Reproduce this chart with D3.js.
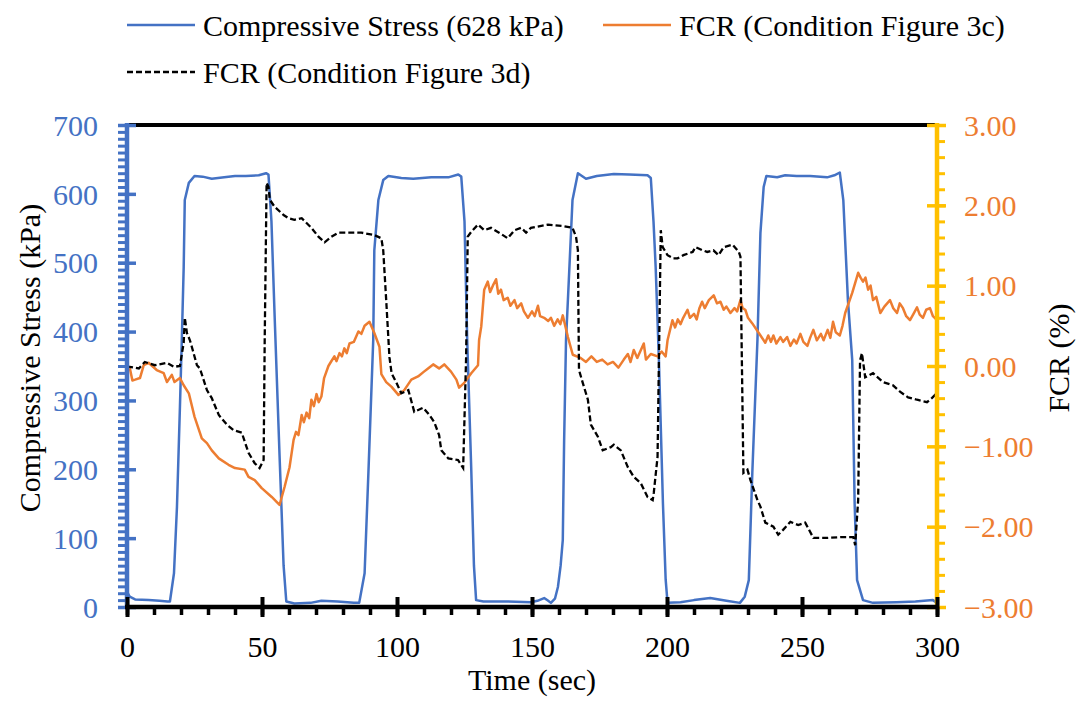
<!DOCTYPE html>
<html><head><meta charset="utf-8">
<script src="https://cdn.jsdelivr.net/npm/d3@7"></script>
<style>
body{margin:0;background:#fff;}
</style></head>
<body><svg id="c" width="1078" height="709"></svg>
<script>
// ---- data ----
const xTicks = [0,50,100,150,200,250,300];
const yLeftTicks = [0,100,200,300,400,500,600,700];
const yRightTicks = [-3,-2,-1,0,1,2,3];
const seriesNames = ["Compressive Stress (628 kPa)","FCR (Condition Figure 3c)","FCR (Condition Figure 3d)"];

const stress = [[0,22],[1,15],[3,11],[8,10],[12,9],[15,8],[15.9,8],[17.4,49],[18.5,145],[19.6,290],[20.3,388],[21,494],[21.4,591],[22.9,616],[25,626],[28,625],[31.4,622],[36,624],[40,626],[44,626],[48.8,627],[51.5,630],[52.4,628],[53.5,560],[54.7,420],[56.5,220],[58,60],[59,8],[62,5],[68,6],[72,9],[78,8],[84,6],[86,6],[88,49],[89.4,194],[91.2,388],[91.6,518],[93.1,591],[94.9,620],[96.8,626],[101.6,623],[106,622],[112.7,624],[119,624],[122.7,628],[123.8,625],[125,560],[126,388],[127.5,200],[128.5,60],[129.3,10],[132,8],[140,8],[149.6,7],[152,9],[154.5,13],[156,9],[157,6],[158.5,12],[159.6,29],[160.6,60],[161.4,97],[161.9,242],[162.6,388],[163.3,446],[165,591],[167,630],[170,622],[174,626],[180.3,629],[186,628],[192.8,627],[194,623],[195,560],[195.8,494],[197,359],[198.5,150],[199.5,40],[200.2,6],[205,7],[210,10],[216,13],[222,9],[227,6],[228.8,15],[230.3,39],[231.6,195],[233.5,388],[234.6,543],[235.8,610],[236.8,626],[240.8,624],[243.8,627],[248,626],[253,626],[259.3,624],[262,627],[264,631],[265.3,591],[267,446],[268.6,359],[269.5,150],[270.4,39],[272.6,10],[276.3,6],[285,7],[292,8],[298.5,10],[300,6]];

const fcr3c = [[0,0.0],[1,-0.02],[2,-0.18],[3,-0.17],[4.8,-0.15],[6.2,0.01],[8,0.04],[11,-0.05],[13.6,-0.09],[14.8,-0.2],[16.6,-0.11],[17.6,-0.2],[19.6,-0.15],[21,-0.24],[22.9,-0.34],[25,-0.63],[27.7,-0.9],[29.6,-0.96],[31.4,-1.05],[34,-1.15],[37.6,-1.23],[40,-1.27],[43.6,-1.29],[45,-1.38],[47.3,-1.42],[49.9,-1.52],[53.6,-1.63],[56.5,-1.73],[58.4,-1.5],[60.2,-1.26],[61.7,-0.92],[62.6,-0.82],[63.5,-0.86],[64.7,-0.61],[65.5,-0.7],[66.5,-0.58],[67.5,-0.65],[68.3,-0.42],[69.2,-0.5],[70.2,-0.35],[71,-0.45],[72,-0.38],[73,-0.15],[74.6,0.0],[75.5,0.05],[76.8,0.12],[77.6,0.06],[78.7,0.16],[79.6,0.12],[80.5,0.22],[81.4,0.16],[82.4,0.28],[84,0.3],[85.7,0.43],[86.8,0.4],[88,0.5],[89.8,0.55],[91.6,0.41],[93.5,0.24],[94.2,-0.1],[96,-0.2],[98,-0.26],[100.5,-0.36],[102.7,-0.3],[105.3,-0.17],[107.8,-0.13],[110,-0.07],[111.5,-0.03],[113.4,0.02],[115.6,-0.03],[117.5,0.02],[120,-0.07],[122,-0.17],[123,-0.27],[124.9,-0.21],[127.5,-0.09],[130,0.01],[130.4,0.32],[131.2,0.49],[132.3,0.95],[133.6,1.05],[134.5,0.92],[135.5,1.0],[136.7,1.08],[137.5,0.9],[138.5,0.95],[139.5,0.82],[141,0.85],[142,0.75],[143.5,0.82],[144.5,0.72],[146,0.78],[147,0.68],[148.5,0.6],[150,0.68],[151,0.62],[152.2,0.75],[153,0.62],[154.5,0.6],[156,0.56],[157,0.6],[158.2,0.5],[159.5,0.58],[160.5,0.52],[161.4,0.63],[163.3,0.36],[165.1,0.14],[168,0.1],[170,0.05],[172,0.12],[174,0.05],[176,0.08],[178,0.02],[180,0.05],[182,-0.02],[184,0.08],[185.5,0.15],[186.5,0.05],[187.7,0.2],[189,0.1],[191.4,0.28],[192.2,0.08],[194,0.15],[196.5,0.12],[198,0.18],[199.5,0.12],[200.2,0.32],[202,0.57],[203,0.48],[204,0.58],[205,0.52],[206,0.6],[207.6,0.7],[208.5,0.6],[210,0.65],[211,0.58],[212,0.72],[213,0.8],[214,0.72],[215.5,0.82],[217.3,0.88],[218.5,0.78],[219.8,0.8],[221,0.7],[222,0.74],[223.5,0.66],[225,0.72],[226,0.68],[227.2,0.82],[228,0.72],[229,0.7],[230,0.6],[231.6,0.53],[234,0.41],[236.4,0.29],[237.5,0.38],[238.5,0.3],[239.4,0.38],[240.5,0.28],[242,0.36],[243,0.3],[244.5,0.36],[245.7,0.25],[247,0.33],[248,0.28],[249.4,0.4],[250.5,0.3],[252,0.25],[253,0.35],[254.2,0.45],[255.5,0.32],[257,0.4],[258,0.32],[259.5,0.45],[260.5,0.35],[261.5,0.55],[262.5,0.42],[264,0.38],[265,0.5],[266,0.66],[268.6,0.91],[270.8,1.16],[271.7,1.1],[272.6,1.05],[273.5,1.1],[274.5,0.95],[275.4,1.0],[276.3,0.82],[277.5,0.86],[279,0.66],[280.5,0.74],[282.6,0.82],[283.8,0.72],[285.2,0.66],[286.2,0.78],[287.4,0.72],[288.6,0.62],[290,0.57],[291.3,0.65],[292.6,0.73],[293.6,0.64],[294.8,0.6],[296,0.7],[297.4,0.72],[298.5,0.62],[300,0.57]];

const fcr3d = [[0,-0.01],[1,-0.01],[4.4,-0.03],[6.6,0.05],[10.3,0.01],[14.8,0.04],[17.4,-0.01],[19.6,0.0],[21,0.29],[21.4,0.6],[22.2,0.41],[23.3,0.32],[24,0.24],[25.9,0.01],[27,-0.03],[29.6,-0.3],[31.4,-0.4],[34,-0.61],[37,-0.73],[39.5,-0.8],[42.5,-0.83],[45,-1.08],[47.3,-1.21],[49.1,-1.27],[50.6,-1.17],[51,0.32],[51.7,2.28],[52.4,2.23],[52.9,2.07],[54.7,1.98],[58,1.88],[59.8,1.84],[62,1.82],[64.7,1.84],[66.5,1.78],[68.3,1.72],[70.9,1.61],[73.2,1.54],[75.7,1.61],[78.3,1.66],[86.8,1.66],[91.6,1.63],[94.2,1.59],[94.9,1.44],[96,0.82],[97.2,0.11],[98,-0.09],[99.8,-0.21],[101.6,-0.34],[104.2,-0.3],[106.4,-0.57],[109.7,-0.52],[112,-0.61],[113.8,-0.7],[115.6,-0.86],[116.4,-1.05],[119,-1.15],[122.6,-1.17],[124.5,-1.27],[125.6,0.11],[126.2,1.61],[127.5,1.67],[130,1.76],[132.3,1.69],[134.8,1.72],[137.8,1.66],[141,1.59],[143.5,1.69],[146,1.72],[147.8,1.66],[149.6,1.72],[155.9,1.76],[161.9,1.74],[165,1.72],[166.3,1.61],[167,1.44],[167.4,-0.05],[168.8,-0.21],[170.7,-0.42],[171.8,-0.73],[174.4,-0.88],[176.2,-1.05],[179.2,-1.01],[180.3,-0.98],[182.9,-1.05],[185.5,-1.26],[187.7,-1.38],[190.3,-1.46],[192.8,-1.63],[194.7,-1.67],[195.1,-1.58],[196.5,-1.13],[197.7,1.69],[198.4,1.48],[200.2,1.38],[202.4,1.34],[203.9,1.34],[206.1,1.38],[209.5,1.42],[210.6,1.48],[213.2,1.44],[214.9,1.42],[217.2,1.44],[219.1,1.38],[221,1.48],[224.3,1.51],[226.6,1.42],[227.2,1.36],[228.3,-1.33],[229.8,-1.29],[230.9,-1.42],[233.5,-1.67],[234.6,-1.75],[236.4,-1.95],[239.4,-2.0],[241.2,-2.1],[243,-2.04],[245.7,-1.94],[248.6,-1.98],[251.2,-1.95],[254.2,-2.14],[259.3,-2.14],[264.2,-2.13],[269,-2.13],[269.7,-2.23],[270.8,-1.67],[271.5,0.07],[272.2,0.16],[273.4,-0.14],[276.3,-0.09],[280,-0.2],[283.7,-0.24],[286.3,-0.32],[289.3,-0.39],[292.6,-0.42],[296.3,-0.45],[298.1,-0.4],[299.3,-0.36],[300,-0.42]];

// ---- fonts ----
const FONT = '"Liberation Serif","Times New Roman","Tinos","DejaVu Serif","Noto Serif",serif';
const FS = 30;

// ---- drawing ----
const BLUE="#4472C4", ORANGE="#ED7D31", YELLOW="#FFC000";
const svg = d3.select("#c").style("font-family",FONT);
const X0=127, X1=937, Y0=607, Y1=125;
const x = d3.scaleLinear().domain([0,300]).range([X0,X1]);
const yL = d3.scaleLinear().domain([0,700]).range([Y0,Y1]);
const yR = d3.scaleLinear().domain([-3,3]).range([Y0,Y1]);

// top border
svg.append("line").attr("x1",X0).attr("x2",X1).attr("y1",Y1).attr("y2",Y1).attr("stroke","#000").attr("stroke-width",4);

// series
const line = (ys)=>d3.line().x(d=>x(d[0])).y(d=>ys(d[1]));
const plot = svg.append("g");
plot.append("path").datum(stress).attr("d",line(yL)).attr("fill","none").attr("stroke",BLUE).attr("stroke-width",2.5).attr("stroke-linejoin","round");
plot.append("path").datum(fcr3c).attr("d",line(yR)).attr("fill","none").attr("stroke",ORANGE).attr("stroke-width",2.5).attr("stroke-linejoin","round");
plot.append("path").datum(fcr3d).attr("d",line(yR)).attr("fill","none").attr("stroke","#000").attr("stroke-width",2.3).attr("stroke-dasharray","6,3");

const styleText = (g,col)=>g.selectAll("text").attr("fill",col).attr("font-size",FS).attr("font-family",FONT);

// left axis
const gL = svg.append("g").attr("transform",`translate(${X0},0)`);
gL.call(d3.axisLeft(yL).tickValues(d3.range(0,701,10)).tickSize(9).tickFormat(""))
  .call(g=>g.selectAll("line").attr("stroke",BLUE).attr("stroke-width",3))
  .call(g=>g.select(".domain").remove());
const gL2 = svg.append("g").attr("transform",`translate(${X0},0)`);
gL2.call(d3.axisLeft(yL).tickValues(yLeftTicks).tickSize(9).tickPadding(20))
  .call(g=>g.selectAll("line").attr("x1",9).attr("x2",-9).attr("stroke",BLUE).attr("stroke-width",3.5))
  .call(g=>g.select(".domain").remove())
  .call(g=>styleText(g,BLUE).attr("dy","0.34em"));
svg.append("line").attr("x1",X0).attr("x2",X0).attr("y1",Y1-2).attr("y2",Y0+2).attr("stroke",BLUE).attr("stroke-width",4.5);

// right axis
const gR = svg.append("g").attr("transform",`translate(${X1},0)`);
gR.call(d3.axisRight(yR).tickValues(d3.range(-15,16).map(v=>v/5)).tickSize(8).tickFormat(""))
  .call(g=>g.selectAll("line").attr("stroke",YELLOW).attr("stroke-width",3))
  .call(g=>g.select(".domain").remove());
const gR2 = svg.append("g").attr("transform",`translate(${X1},0)`);
gR2.call(d3.axisRight(yR).tickValues(yRightTicks).tickSize(9).tickPadding(18).tickFormat(d3.format(".2f")))
  .call(g=>g.selectAll("line").attr("x1",-10).attr("x2",9).attr("stroke",YELLOW).attr("stroke-width",3.5))
  .call(g=>g.select(".domain").remove())
  .call(g=>styleText(g,ORANGE).attr("dy","0.34em"));
svg.append("line").attr("x1",X1).attr("x2",X1).attr("y1",Y1-2).attr("y2",Y0+2).attr("stroke",YELLOW).attr("stroke-width",4.5);

// bottom axis
const gB = svg.append("g").attr("transform",`translate(0,${Y0})`);
gB.call(d3.axisBottom(x).tickValues(d3.range(0,301,10)).tickSize(8).tickFormat(""))
  .call(g=>g.selectAll("line").attr("stroke","#000").attr("stroke-width",3.5))
  .call(g=>g.select(".domain").remove());
const gB2 = svg.append("g").attr("transform",`translate(0,${Y0})`);
gB2.call(d3.axisBottom(x).tickValues(xTicks).tickSize(10).tickPadding(19))
  .call(g=>g.selectAll("line").attr("y1",-10).attr("y2",10).attr("stroke","#000").attr("stroke-width",4))
  .call(g=>g.select(".domain").remove())
  .call(g=>styleText(g,"#000"));
svg.append("line").attr("x1",X0-2).attr("x2",X1+2).attr("y1",Y0).attr("y2",Y0).attr("stroke","#000").attr("stroke-width",4.5);

// axis titles
svg.append("text").attr("transform",`translate(40,358) rotate(-90)`).attr("text-anchor","middle").attr("font-size",FS).attr("font-family",FONT).text("Compressive Stress (kPa)");
svg.append("text").attr("transform",`translate(1069,358) rotate(-90)`).attr("text-anchor","middle").attr("font-size",FS).attr("font-family",FONT).text("FCR (%)");
svg.append("text").attr("x",532).attr("y",690).attr("text-anchor","middle").attr("font-size",FS).attr("font-family",FONT).text("Time (sec)");

// legend
const leg = [
  {name:seriesNames[0], color:BLUE, dash:null, x:127, y:25},
  {name:seriesNames[1], color:ORANGE, dash:null, x:603, y:25},
  {name:seriesNames[2], color:"#000", dash:"6,3", x:127, y:72}
];
const lg = svg.append("g").selectAll("g").data(leg).join("g");
lg.append("line").attr("x1",d=>d.x).attr("x2",d=>d.x+68).attr("y1",d=>d.y).attr("y2",d=>d.y)
  .attr("stroke",d=>d.color).attr("stroke-width",2.5).attr("stroke-dasharray",d=>d.dash);
lg.append("text").attr("x",d=>d.x+76).attr("y",d=>d.y+11).attr("font-size",FS).attr("font-family",FONT).text(d=>d.name);
</script></body></html>
